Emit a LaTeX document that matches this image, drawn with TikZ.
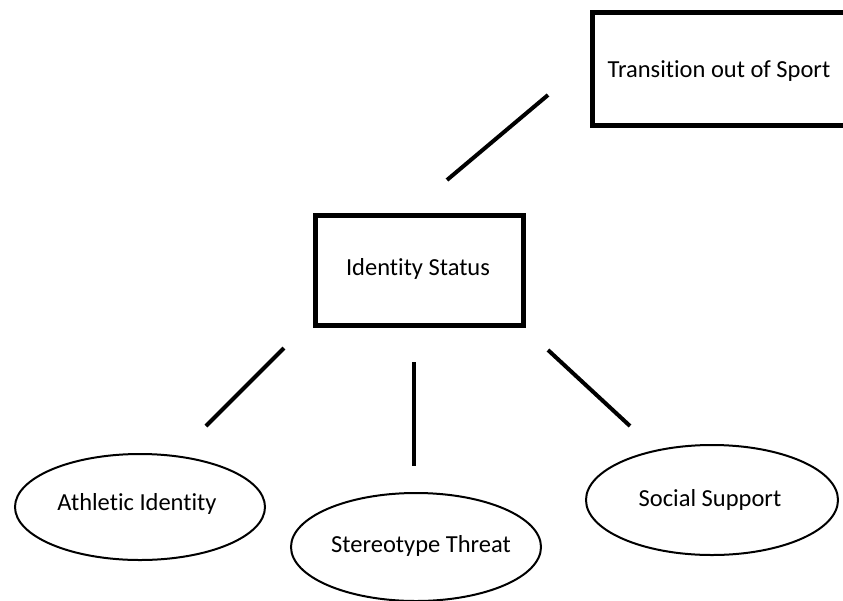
\documentclass[tikz,border=0pt]{standalone}
\usepackage{fontspec}
\setmainfont{Carlito}[Ligatures=NoCommon]
\usepackage{tikz}
\usetikzlibrary{shapes.geometric}
\tikzset{
  boxline/.style={draw=black, line width=5pt},
  ovalline/.style={draw=black, line width=2pt},
  link/.style={draw=black, line width=4pt},
  lab/.style={text=black, font=\fontsize{24.5}{29}\selectfont},
}

\begin{document}
\begin{tikzpicture}[x=1pt, y=-1pt]
  \useasboundingbox (0,0) rectangle (843,600);
  % boxes
  \draw[boxline] (592,12.5) rectangle (870,125);
  \draw[boxline] (315,215.5) rectangle (523,325);
  \node[lab] (trans) at (719,71) {Transition out of Sport};
  \node[lab] (ident) at (418,269) {Identity Status};
  % ovals
  \draw[ovalline] (140,507) ellipse [x radius=125, y radius=53];
  \draw[ovalline] (416,547) ellipse [x radius=125, y radius=54];
  \draw[ovalline] (712,500) ellipse [x radius=126, y radius=55];
  \node[lab] (athl) at (137,504) {Athletic Identity};
  \node[lab] (stereo) at (421,546) {Stereotype Threat};
  \node[lab] (social) at (710,500) {Social Support};
  % links
  \coordinate (t1) at (447,180);
  \coordinate (t2) at (548,95);
  \coordinate (a1) at (284,348);
  \coordinate (a2) at (206,426);
  \coordinate (s1) at (414,362);
  \coordinate (s2) at (414,466);
  \coordinate (o1) at (548,350);
  \coordinate (o2) at (630,426);
  \draw[link] (t1) -- (t2);
  \draw[link] (a1) -- (a2);
  \draw[link] (s1) -- (s2);
  \draw[link] (o1) -- (o2);
\end{tikzpicture}
\end{document}
